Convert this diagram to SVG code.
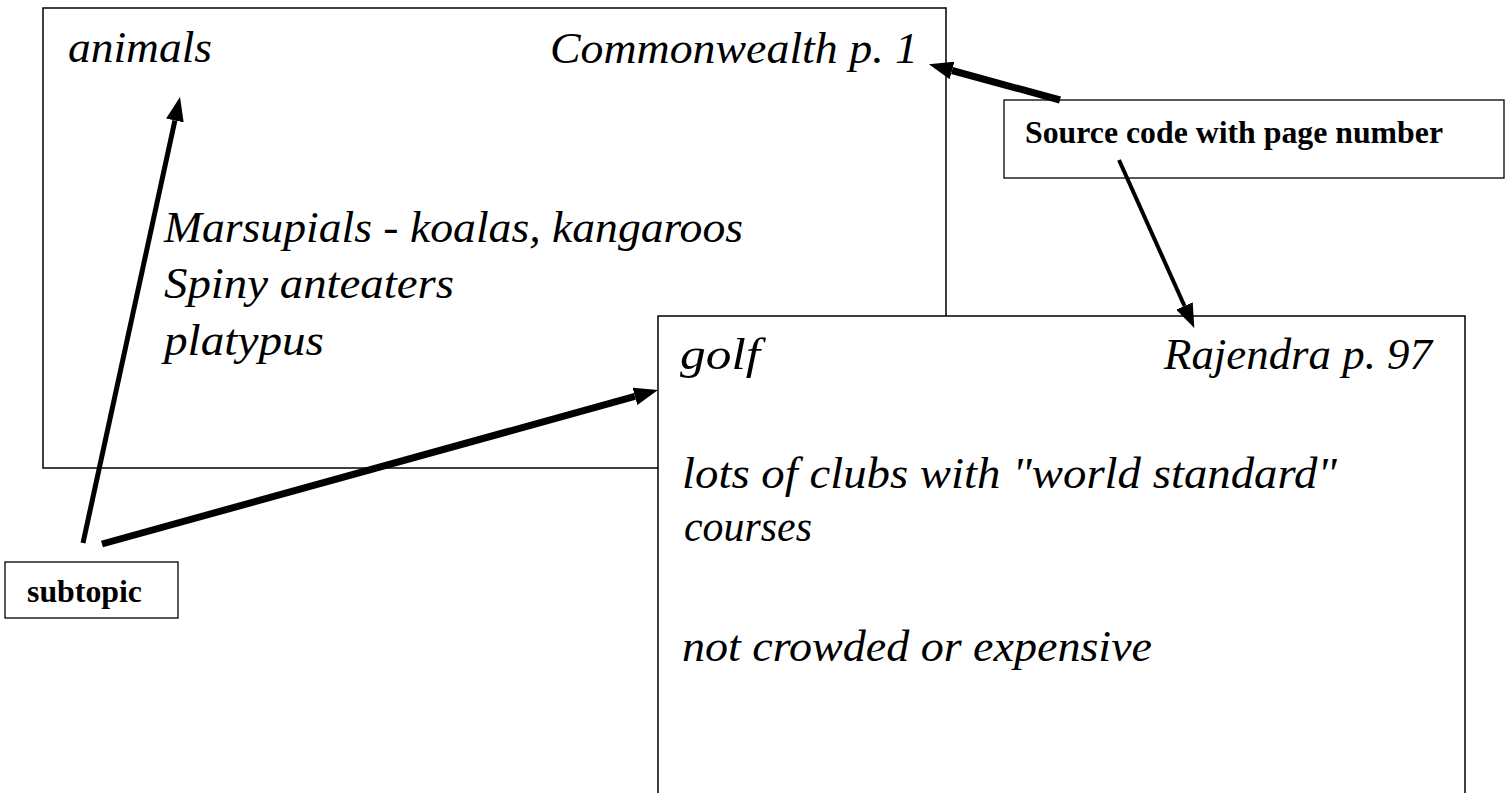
<svg xmlns="http://www.w3.org/2000/svg" width="1512" height="793" viewBox="0 0 1512 793">
<style>
.card{fill:#fff;stroke:#000;stroke-width:1.5}
.box{fill:#fff;stroke:#000;stroke-width:1.3}
.hand{font-family:'Liberation Serif','Times New Roman',serif;font-style:italic;font-size:45px;fill:#000}
.lbl{font-family:'Liberation Serif','Times New Roman',serif;font-weight:bold;font-size:31.5px;fill:#000}
.arr{stroke:#000;fill:none;stroke-linecap:butt;marker-end:url(#ah)}
</style>
<defs>
<marker id="ah" viewBox="0 0 24 18" markerUnits="userSpaceOnUse" markerWidth="24" markerHeight="18" refX="0" refY="9" orient="auto">
<path d="M0,0 L24,9 L0,18 z" fill="#000"/>
</marker>
</defs>
<g id="card-animals">
<rect class="card" x="43" y="8" width="903" height="460"/>
<text class="hand" x="68" y="62" textLength="144" lengthAdjust="spacingAndGlyphs">animals</text>
<text class="hand" x="550" y="63" textLength="368" lengthAdjust="spacingAndGlyphs">Commonwealth p. 1</text>
<text class="hand" x="164" y="242" textLength="579" lengthAdjust="spacingAndGlyphs">Marsupials - koalas, kangaroos</text>
<text class="hand" x="164" y="298" textLength="290" lengthAdjust="spacingAndGlyphs">Spiny anteaters</text>
<text class="hand" x="164" y="355" textLength="160" lengthAdjust="spacingAndGlyphs">platypus</text>
</g>
<g id="card-golf">
<rect class="card" x="658" y="316" width="807" height="490"/>
<text class="hand" x="680" y="369" textLength="80" lengthAdjust="spacingAndGlyphs">golf</text>
<text class="hand" x="1164" y="369" textLength="268" lengthAdjust="spacingAndGlyphs">Rajendra p. 97</text>
<text class="hand" x="682" y="488" textLength="655" lengthAdjust="spacingAndGlyphs">lots of clubs with "world standard"</text>
<text class="hand" x="684" y="541" textLength="128" lengthAdjust="spacingAndGlyphs">courses</text>
<text class="hand" x="682" y="661" textLength="470" lengthAdjust="spacingAndGlyphs">not crowded or expensive</text>
</g>
<g id="label-source">
<rect class="box" x="1004" y="100" width="500" height="78"/>
<text class="lbl" x="1025" y="143" textLength="418" lengthAdjust="spacingAndGlyphs">Source code with page number</text>
</g>
<g id="label-subtopic">
<rect class="box" x="5" y="562" width="173" height="56"/>
<text class="lbl" x="27" y="602" font-size="32" textLength="115" lengthAdjust="spacingAndGlyphs">subtopic</text>
</g>
<g id="connectors">
<line class="arr" x1="83" y1="543" x2="174.9" y2="120.5" stroke-width="5"/>
<line class="arr" x1="102" y1="544" x2="634.9" y2="396.4" stroke-width="7"/>
<line class="arr" x1="1060" y1="100" x2="952" y2="70.5" stroke-width="7"/>
<line class="arr" x1="1119" y1="160" x2="1184.5" y2="306" stroke-width="4"/>
</g>
</svg>
